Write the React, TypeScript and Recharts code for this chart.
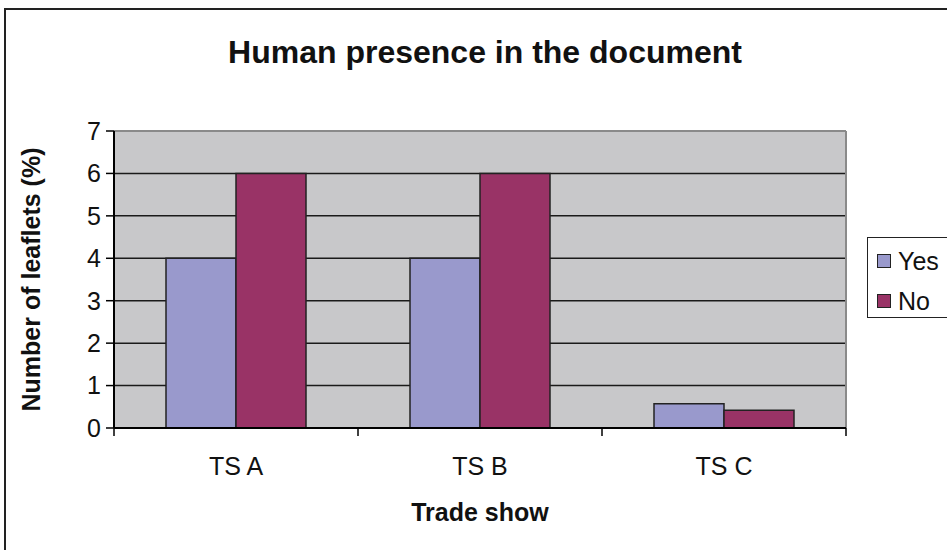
import React from 'react';
import {
  BarChart, Bar, XAxis, YAxis, CartesianGrid, Legend, ReferenceLine, Customized,
} from 'recharts';

const categories = ['TS A', 'TS B', 'TS C'];
const yesValues = [4, 4, 0.57];
const noValues = [6, 6, 0.42];
const seriesNames = ['Yes', 'No'];
const yTicks = [0, 1, 2, 3, 4, 5, 6, 7];
const gridValues = [1, 2, 3, 4, 5, 6];

const data = categories.map((c, i) => ({ name: c, Yes: yesValues[i], No: noValues[i] }));

const FONT = '"Liberation Sans", Arial, sans-serif';

const CatTick = (props: any) => {
  const { x, y, payload, index, visibleTicksCount } = props;
  const off = payload && payload.offset ? payload.offset : 122;
  const last = index === (visibleTicksCount ?? categories.length) - 1;
  return (
    <g>
      <line x1={x - off} y1={y} x2={x - off} y2={y + 8} stroke="#000" strokeWidth={1.5} />
      {last && <line x1={x + off} y1={y} x2={x + off} y2={y + 8} stroke="#000" strokeWidth={1.5} />}
      <text x={x} y={y + 47} textAnchor="middle" fontSize={25} fill="#111" fontFamily={FONT}>
        {payload.value}
      </text>
    </g>
  );
};

const LegendBox = (props: any) => {
  const payload = [...(props.payload || [])].sort(
    (a: any, b: any) => seriesNames.indexOf(a.value) - seriesNames.indexOf(b.value)
  );
  return (
    <div
      style={{
        position: 'relative', width: 100, height: 81, boxSizing: 'border-box',
        border: '1.5px solid #222', background: '#fff', fontFamily: FONT,
      }}
    >
      {payload.map((p: any, i: number) => (
        <div key={p.value} style={{ position: 'absolute', left: 9, top: 10 + i * 40, height: 26, display: 'flex', alignItems: 'center' }}>
          <div style={{ width: 12, height: 12, background: p.color, border: '1.5px solid #222' }} />
          <span style={{ marginLeft: 7, fontSize: 25, color: '#111', lineHeight: '26px' }}>{p.value}</span>
        </div>
      ))}
    </div>
  );
};

const Title = () => (
  <text x={485} y={63} textAnchor="middle" fontSize={32} fontWeight="bold" fill="#111" fontFamily={FONT}>
    Human presence in the document
  </text>
);

const YLabel = (props: any) => {
  const vb = props.viewBox || { x: 64, y: 131, width: 50, height: 297 };
  return (
    <text
      transform={`translate(${vb.x - 33}, ${vb.y + vb.height / 2}) rotate(-90)`}
      textAnchor="middle" dominantBaseline="central" fontSize={25} fontWeight="bold" fill="#111" fontFamily={FONT}
    >
      Number of leaflets (%)
    </text>
  );
};

const XLabel = (props: any) => {
  const vb = props.viewBox || { x: 114, y: 428, width: 732, height: 40 };
  return (
    <text
      x={vb.x + vb.width / 2} y={vb.y + 93} textAnchor="middle" fontSize={25} fontWeight="bold" fill="#111" fontFamily={FONT}
    >
      Trade show
    </text>
  );
};

export default function App() {
  return (
    <div style={{ position: 'absolute', left: 0, top: 0, width: 947, height: 550, overflow: 'hidden', background: '#fff', fontFamily: FONT }}>
      <div style={{ position: 'absolute', left: 4, top: 8, width: 1000, height: 600, border: '2px solid #222' }} />
      <div style={{ position: 'absolute', left: 0, top: 0 }}>
        <BarChart
          width={947}
          height={550}
          data={data}
          margin={{ top: 131, right: 1, bottom: 82, left: 64 }}
          barCategoryGap={52}
          barGap={0}
        >
          <CartesianGrid vertical={false} horizontalValues={gridValues} stroke="#1a1a1a" strokeWidth={1.5} fill="#C8C8CA" fillOpacity={1} />
          <ReferenceLine y={7} stroke="#8a8a8a" strokeWidth={2} />
          <ReferenceLine x="TS C" position="end" stroke="#8a8a8a" strokeWidth={2} />
          <XAxis
            dataKey="name"
            height={40}
            interval={0}
            tickSize={0}
            tickMargin={0}
            tickLine={false}
            axisLine={{ stroke: '#000', strokeWidth: 2 }}
            tick={<CatTick />}
            label={<XLabel />}
          />
          <YAxis
            type="number"
            domain={[0, 7]}
            ticks={yTicks}
            width={50}
            interval={0}
            tickSize={8}
            tickMargin={5}
            axisLine={{ stroke: '#000', strokeWidth: 2 }}
            tickLine={{ stroke: '#000', strokeWidth: 1.5 }}
            tick={{ fill: '#111', fontSize: 25, fontFamily: FONT }}
            label={<YLabel />}
          />
          <Bar dataKey={seriesNames[0]} fill="#9999CC" stroke="#222" strokeWidth={1.5} isAnimationActive={false} />
          <Bar dataKey={seriesNames[1]} fill="#993366" stroke="#222" strokeWidth={1.5} isAnimationActive={false} />
          <Legend
            layout="horizontal"
            align="right"
            verticalAlign="middle"
            content={<LegendBox />}
            wrapperStyle={{ left: 867, top: 237, width: 100, height: 81, right: 'auto', bottom: 'auto' }}
          />
          <Customized component={<Title />} />
        </BarChart>
      </div>
    </div>
  );
}
